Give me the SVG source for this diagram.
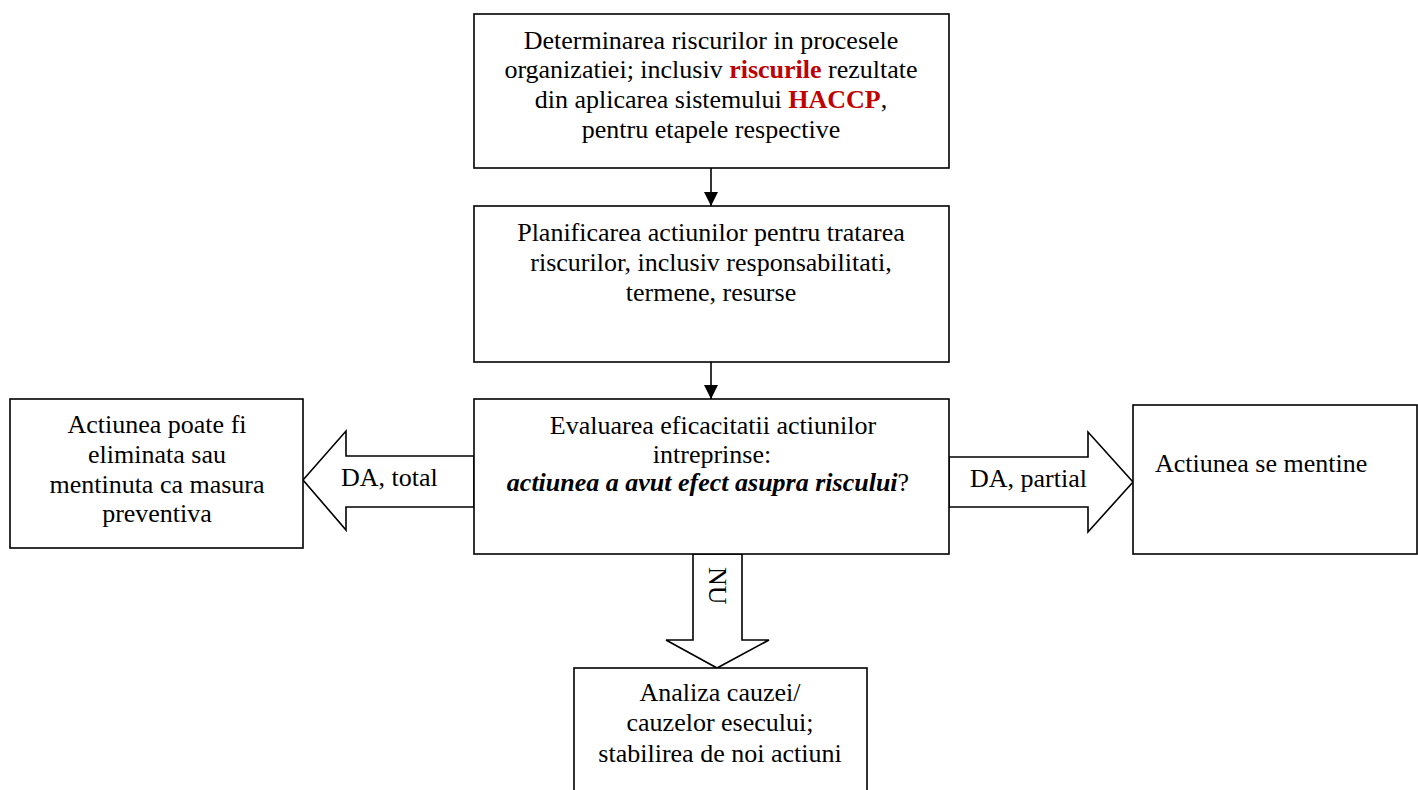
<svg xmlns="http://www.w3.org/2000/svg" width="1418" height="790" viewBox="0 0 1418 790">
<style>
.box{fill:#fff;stroke:#000;stroke-width:1.6}
.blk{fill:#fff;stroke:#000;stroke-width:1.6;stroke-linejoin:miter}
.ln{stroke:#000;stroke-width:1.6;fill:none}
text{font-family:"Liberation Serif","Times New Roman",serif;font-size:26px;fill:#000}
.c{text-anchor:middle}
.red{fill:#c00000;font-weight:bold}
.bi{font-weight:bold;font-style:italic}
</style>
<defs>
<marker id="ah" markerWidth="14" markerHeight="14" refX="14" refY="7" orient="auto" markerUnits="userSpaceOnUse">
<path d="M0,0 L14,7 L0,14 z" fill="#000"/>
</marker>
</defs>
<rect width="1418" height="790" fill="#fff"/>
<g id="connectors">
<line class="ln" x1="711" y1="168" x2="711" y2="206" marker-end="url(#ah)"/>
<line class="ln" x1="711" y1="362" x2="711" y2="399" marker-end="url(#ah)"/>
<polygon class="blk" points="474,456 346,456 346,431 303,480 346,530 346,507 474,507"/>
<polygon class="blk" points="949,457 1088,457 1088,432 1133,482 1088,532 1088,507 949,507"/>
<polygon class="blk" points="693,554 693,640 666,640 717,668 769,640 742,640 742,554"/>
<text x="341" y="486">DA, total</text>
<text x="970" y="487">DA, partial</text>
<text transform="translate(709,567) rotate(90)">NU</text>
</g>
<g id="n1">
<rect class="box" x="474" y="14" width="475" height="154"/>
<text class="c" x="711" y="49">Determinarea riscurilor in procesele</text>
<text class="c" x="711" y="78">organizatiei; inclusiv <tspan class="red">riscurile</tspan> rezultate</text>
<text class="c" x="711" y="108">din aplicarea sistemului <tspan class="red">HACCP</tspan>,</text>
<text class="c" x="711" y="138">pentru etapele respective</text>
</g>
<g id="n2">
<rect class="box" x="474" y="206" width="475" height="156"/>
<text class="c" x="711" y="241">Planificarea actiunilor pentru tratarea</text>
<text class="c" x="711" y="271">riscurilor, inclusiv responsabilitati,</text>
<text class="c" x="711" y="301">termene, resurse</text>
</g>
<g id="n3">
<rect class="box" x="474" y="399" width="475" height="155"/>
<text class="c" x="713" y="434">Evaluarea eficacitatii actiunilor</text>
<text class="c" x="712" y="463">intreprinse:</text>
<text class="c" x="708" y="491"><tspan class="bi">actiunea a avut efect asupra riscului</tspan>?</text>
</g>
<g id="n4">
<rect class="box" x="10" y="399" width="293" height="149"/>
<text class="c" x="157" y="433">Actiunea poate fi</text>
<text class="c" x="157" y="463">eliminata sau</text>
<text class="c" x="157" y="493">mentinuta ca masura</text>
<text class="c" x="157" y="522">preventiva</text>
</g>
<g id="n5">
<rect class="box" x="1133" y="405" width="284" height="149"/>
<text x="1155" y="472">Actiunea se mentine</text>
</g>
<g id="n6">
<rect class="box" x="574" y="668" width="293" height="140"/>
<text class="c" x="720" y="701">Analiza cauzei/</text>
<text class="c" x="720" y="731">cauzelor esecului;</text>
<text class="c" x="720" y="762">stabilirea de noi actiuni</text>
</g>
</svg>
